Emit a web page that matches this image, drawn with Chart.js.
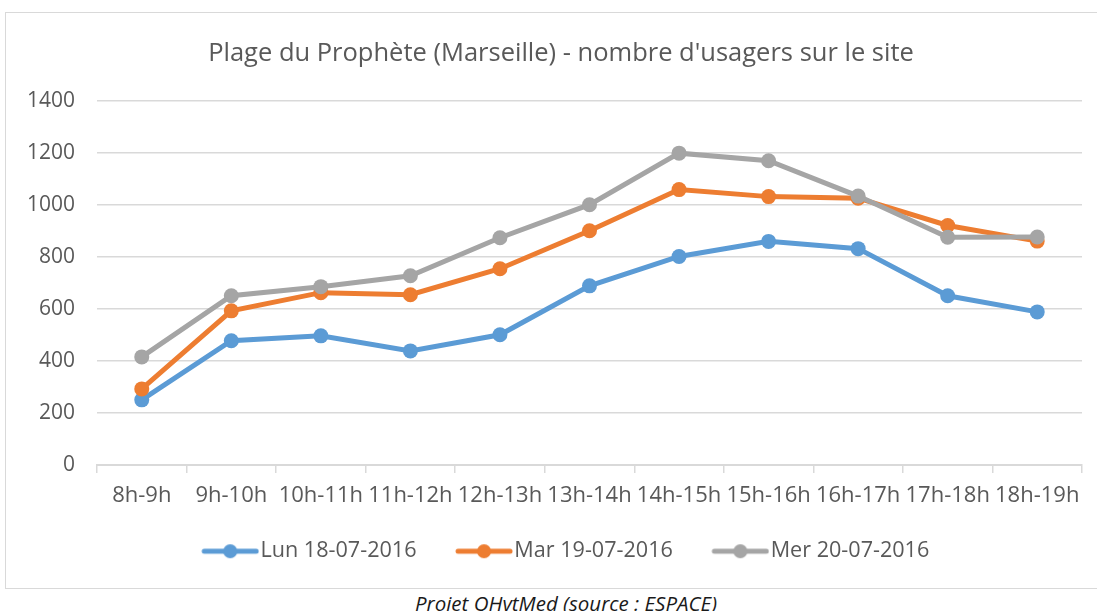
<!DOCTYPE html>
<html lang="fr">
<head>
  <meta charset="UTF-8">
  <title>Plage du Prophète - nombre d'usagers</title>
  <script src="https://cdn.jsdelivr.net/npm/chart.js"></script>
  <style>
    body { margin: 0; background: #fff; font-family: "Open Sans", sans-serif; }
    .chart-box {
      position: absolute;
      left: 5px;
      top: 12px;
      width: 1100px;
      height: 575px;
      border: 1px solid #d9d9d9;
    }
    .caption {
      position: absolute;
      left: 0;
      width: 1132px;
      top: 589px;
      text-align: center;
      font-style: italic;
      font-size: 20.5px;
      color: #1a1a1a;
    }
  </style>
</head>
<body>

<div class="chart-box">
  <canvas id="myChart"></canvas>
</div>
<div class="caption">Projet QHytMed (source : ESPACE)</div>

<script>
  // Data
  const hours = ["8h-9h", "9h-10h", "10h-11h", "11h-12h", "12h-13h", "13h-14h",
                 "14h-15h", "15h-16h", "16h-17h", "17h-18h", "18h-19h"];
  const lun18 = [250, 477, 496, 438, 500, 688, 801, 859, 831, 650, 588];
  const mar19 = [292, 592, 662, 654, 754, 900, 1058, 1031, 1025, 920, 860];
  const mer20 = [415, 650, 685, 727, 873, 1000, 1198, 1169, 1033, 875, 876];
  const yTicks = [0, 200, 400, 600, 800, 1000, 1200, 1400];

  const textColor = '#595959';
  const gridColor = '#d9d9d9';

  // legend picture: line + dot sitting on the right side of a wider
  // transparent canvas, so it ends right before the label text
  function legendIcon(color) {
    const c = document.createElement('canvas');
    c.width = 96;
    c.height = 16;
    const g = c.getContext('2d');
    const x0 = 96 - 58;
    g.strokeStyle = color;
    g.lineWidth = 5;
    g.lineCap = 'round';
    g.beginPath();
    g.moveTo(x0 + 3, 8);
    g.lineTo(x0 + 55, 8);
    g.stroke();
    g.fillStyle = color;
    g.beginPath();
    g.arc(x0 + 29, 8, 7, 0, Math.PI * 2);
    g.fill();
    return c;
  }

  function series(label, values, color, order) {
    return {
      label: label,
      data: values,
      borderColor: color,
      backgroundColor: color,
      borderWidth: 5,
      pointRadius: 7.5,
      pointHoverRadius: 7.5,
      pointBorderWidth: 0,
      pointStyle: 'circle',
      legendIcon: legendIcon(color),
      tension: 0,
      order: order
    };
  }

  // title and legend are centred on the whole frame, not only on the plot side
  const shiftBoxes = {
    id: 'shiftBoxes',
    afterLayout(chart) {
      if (chart.titleBlock) chart.titleBlock.left += 34;
      if (chart.legend) chart.legend.left += 14;
    }
  };

  const data = {
    labels: hours,
    datasets: [
      series("Lun 18-07-2016", lun18, '#5b9bd5', 2),
      series("Mar 19-07-2016", mar19, '#ed7d31', 1),
      series("Mer 20-07-2016", mer20, '#a5a5a5', 0)
    ]
  };

  const config = {
    type: 'line',
    data: data,
    plugins: [shiftBoxes],
    options: {
      responsive: true,
      maintainAspectRatio: false,
      animation: false,
      layout: {
        padding: { left: 0, right: 24, top: 0, bottom: 16 }
      },
      scales: {
        x: {
          offset: true,
          grid: {
            offset: true,
            drawOnChartArea: false,
            drawTicks: true,
            tickLength: 8,
            color: gridColor,
            lineWidth: 1.5
          },
          border: { display: true, color: gridColor, width: 2 },
          ticks: {
            color: textColor,
            font: { family: 'Open Sans', size: 22 },
            padding: 10,
            maxRotation: 0,
            autoSkip: false
          },
          afterFit: function(scale) { scale.height = 65.5; }
        },
        y: {
          min: 0,
          max: 1400,
          afterBuildTicks: function(scale) {
            scale.ticks = yTicks.map(v => ({ value: v }));
          },
          grid: {
            color: gridColor,
            lineWidth: 1.5,
            drawTicks: false
          },
          border: { display: false },
          ticks: {
            color: textColor,
            font: { family: 'Open Sans', size: 21 },
            padding: 22,
            callback: v => String(v)
          },
          afterFit: function(scale) { scale.width = 91; }
        }
      },
      plugins: {
        title: {
          display: true,
          text: "Plage du Prophète (Marseille) - nombre d'usagers sur le site",
          color: textColor,
          font: { family: 'Open Sans', size: 25.5, weight: 'normal' },
          padding: { top: 25, bottom: 32 }
        },
        legend: {
          position: 'bottom',
          labels: {
            color: textColor,
            font: { family: 'Open Sans', size: 21.6 },
            usePointStyle: true,
            pointStyleWidth: 77,
            padding: 10,
            sort: (a, b) => a.datasetIndex - b.datasetIndex,
            generateLabels: function(chart) {
              return chart.data.datasets.map((ds, i) => ({
                text: ds.label,
                fillStyle: ds.borderColor,
                strokeStyle: ds.borderColor,
                fontColor: textColor,
                lineWidth: 0,
                pointStyle: ds.legendIcon,
                hidden: !chart.isDatasetVisible(i),
                datasetIndex: i
              }));
            }
          }
        },
        tooltip: { enabled: false }
      }
    }
  };

  const ctx = document.getElementById('myChart').getContext('2d');
  const myChart = new Chart(ctx, config);
</script>

</body>
</html>
